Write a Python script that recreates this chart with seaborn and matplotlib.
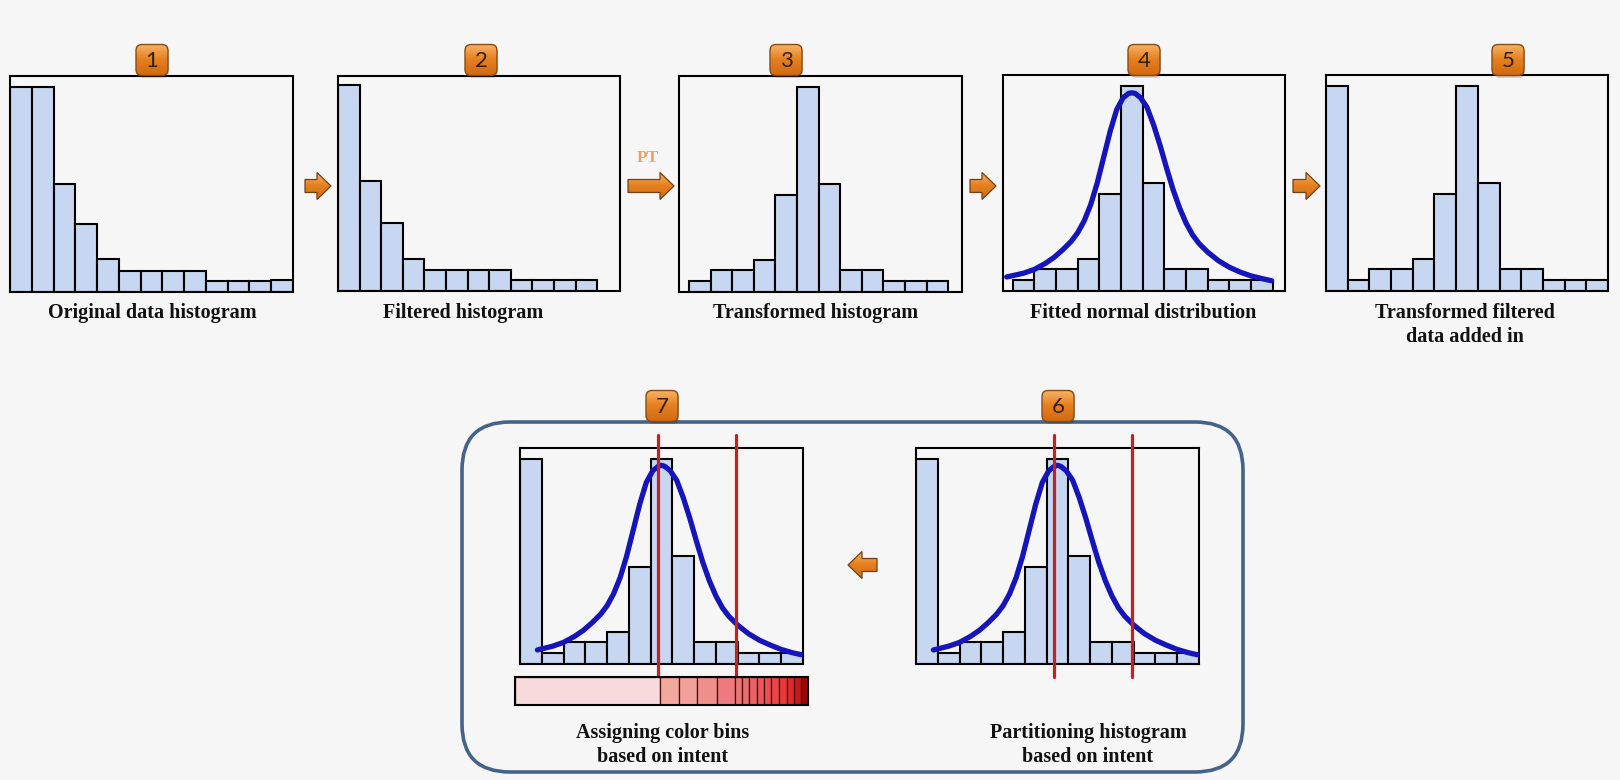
import numpy as np
import pandas as pd
import matplotlib
matplotlib.use("Agg")
import matplotlib.pyplot as plt
import seaborn as sns
from matplotlib.colors import LinearSegmentedColormap
from matplotlib.patches import FancyBboxPatch, Polygon

W, H = 1620, 780
BG = "#f6f6f6"
BAR = "#c7d7f1"
CURVE = "#1515bb"
CUT = "#c9201f"
ORANGE = LinearSegmentedColormap.from_list("orange", ["#f6b468", "#e5801f", "#d26a12"])

# bar heights (bin i is centred on x = i)
original_counts = [19.0, 19.0, 10.0, 6.3, 3.1, 1.9, 1.9, 1.9, 1.9, 1.0, 1.0, 1.0, 1.15]
filtered_counts = [19.2, 10.2, 6.3, 3.0, 2.0, 2.0, 2.0, 2.0, 1.0, 1.0, 1.0, 1.0]
transformed_counts = [1.0, 2.0, 2.0, 3.0, 9.0, 19.0, 10.0, 2.0, 2.0, 1.0, 1.0, 1.0]
added_counts = [19.0, 1.0, 2.0, 2.0, 3.0, 9.0, 19.0, 10.0, 2.0, 2.0, 1.0, 1.0, 1.0]

# fitted curve of panel 4
fit_x = [-0.78, 0.0, 0.5, 1.0, 1.4, 1.8, 2.2, 2.5, 2.8, 3.1, 3.4, 3.7, 4.0, 4.3, 4.6, 4.85, 5.0, 5.15,
         5.4, 5.7, 6.0, 6.3, 6.6, 6.9, 7.2, 7.5, 7.8, 8.1, 8.5, 9.0, 9.5, 10.0, 10.5, 11.0, 11.45]
fit_y = [1.3, 1.65, 2.0, 2.55, 3.1, 3.8, 4.6, 5.4, 6.5, 8.0, 10.0, 12.4, 14.8, 16.8, 17.9, 18.3, 18.35, 18.3,
         17.9, 17.0, 15.4, 13.5, 11.4, 9.4, 7.7, 6.3, 5.2, 4.4, 3.6, 2.8, 2.2, 1.75, 1.4, 1.15, 0.95]

# fitted curve of panels 6 and 7 (one extra bin on the left)
fit2_x = [0.3, 1.0, 1.5, 2.0, 2.4, 2.8, 3.2, 3.5, 3.8, 4.1, 4.4, 4.7, 5.0, 5.3, 5.6, 5.85, 6.0, 6.15,
          6.4, 6.7, 7.0, 7.3, 7.6, 7.9, 8.2, 8.5, 8.8, 9.1, 9.5, 10.0, 10.5, 11.0, 11.5, 12.0, 12.42]
fit2_y = [1.3, 1.65, 2.0, 2.55, 3.1, 3.8, 4.6, 5.4, 6.5, 8.0, 10.0, 12.4, 14.8, 16.8, 17.9, 18.3, 18.4, 18.3,
          17.9, 17.0, 15.4, 13.5, 11.4, 9.4, 7.7, 6.3, 5.2, 4.4, 3.6, 2.8, 2.2, 1.75, 1.35, 1.05, 0.86]

partition_cuts = [5.85, 9.4]

# colour bins under panel 7 (edges in percent of the strip)
color_edges = [0, 49.5, 56.0, 62.2, 68.8, 75.1, 77.6, 80.0, 82.5, 85.0, 87.5, 90.1, 92.7, 95.2, 97.6, 100]
color_bins = ["#f8d9dc", "#f2a89f", "#f1a199", "#ef8f8b", "#ee7a80", "#e97676", "#e96c6e",
              "#e96266", "#ea585c", "#eb4e52", "#ea4547", "#e6393a", "#de2a2a", "#c91818", "#9e0606"]

sns.set_theme(style="white")
plt.rcParams["font.family"] = ["Liberation Serif", "DejaVu Serif"]

fig = plt.figure(figsize=(W / 100, H / 100), dpi=100, facecolor=BG)


def px_axes(x0, x1, ytop, ybot, z=1):
    return fig.add_axes([x0 / W, 1 - ybot / H, (x1 - x0) / W, (ybot - ytop) / H], zorder=z)


def hist_panel(box, counts, xlim, curve=None, cuts=None):
    ax = px_axes(*box)
    df = pd.DataFrame({"bin": np.arange(len(counts)), "count": counts})
    sns.barplot(data=df, x="bin", y="count", native_scale=True, width=1, color=BAR, saturation=1,
                edgecolor="black", linewidth=1.5, errorbar=None, ax=ax)
    if curve is not None:
        sns.lineplot(x=curve[0], y=curve[1], color=CURVE, linewidth=3.8, ax=ax,
                     solid_capstyle="round", solid_joinstyle="round", zorder=4)
    for c in cuts or []:
        ax.axvline(c, ymin=-0.06, ymax=1.06, color=CUT, linewidth=2.3, clip_on=False, zorder=5)
    ax.set_xlim(*xlim)
    ax.set_ylim(0, 20)
    ax.set_facecolor(BG)
    ax.set(xticks=[], yticks=[], xlabel="", ylabel="")
    for s in ax.spines.values():
        s.set_visible(True)
        s.set_color("black")
        s.set_linewidth(1.5)
    return ax


hist_panel((10, 293, 76, 292), original_counts, (-0.5, 12.5))
hist_panel((338, 620, 76, 291), filtered_counts, (-0.5, 12.55))
hist_panel((679, 962, 76, 292), transformed_counts, (-0.96, 12.14))
hist_panel((1003, 1285, 75, 291), transformed_counts, (-0.95, 12.07), curve=(fit_x, fit_y))
hist_panel((1326, 1608, 75, 291), added_counts, (-0.5, 12.5))
hist_panel((520, 803, 448, 664), added_counts, (-0.5, 12.5), curve=(fit2_x, fit2_y), cuts=partition_cuts)
hist_panel((916, 1199, 448, 664), added_counts, (-0.5, 12.5), curve=(fit2_x, fit2_y), cuts=partition_cuts)

# colour strip
cax = px_axes(515, 808, 677, 705)
cax.barh(0, np.diff(color_edges), left=color_edges[:-1], height=1, color=color_bins,
         edgecolor="#4a1010", linewidth=0.9)
cax.set_xlim(0, 100)
cax.set_ylim(-0.5, 0.5)
cax.set(xticks=[], yticks=[])
for s in cax.spines.values():
    s.set_visible(True)
    s.set_color("black")
    s.set_linewidth(1.5)

# overlay in pixel coordinates for decorations
ov = fig.add_axes([0, 0, 1, 1], zorder=10)
ov.patch.set_alpha(0)
ov.set_xlim(0, W)
ov.set_ylim(H, 0)
ov.axis("off")


def gradient_fill(patch, x0, x1, y0, y1):
    ov.add_patch(patch)
    img = ov.imshow(np.linspace(0, 1, 64).reshape(-1, 1), extent=(x0, x1, y1, y0), origin="upper",
                    cmap=ORANGE, aspect="auto", zorder=patch.get_zorder() + 0.1)
    img.set_clip_path(patch)


def badge(cx, cy, num):
    ov.add_patch(FancyBboxPatch((cx - 14, cy - 13), 31, 31, boxstyle="round,pad=0,rounding_size=6",
                                fc="black", ec="none", alpha=0.15, zorder=3))
    shape = dict(boxstyle="round,pad=0,rounding_size=6")
    gradient_fill(FancyBboxPatch((cx - 16, cy - 15.5), 32, 31, fc="#e5801f", ec="none", zorder=4, **shape),
                  cx - 16, cx + 16, cy - 15.5, cy + 15.5)
    ov.add_patch(FancyBboxPatch((cx - 16, cy - 15.5), 32, 31, fc="none", ec="#8a4b12", lw=1.0, zorder=5, **shape))
    ov.text(cx, cy + 1, str(num), ha="center", va="center", fontsize=16, color="#33200c",
            family=["Lato", "DejaVu Sans"], zorder=6)


def block_arrow(x0, x1, cy, right=True):
    head, hh, sh = 14, 13.5, 6.5
    if right:
        pts = [(x0, cy - sh), (x1 - head, cy - sh), (x1 - head, cy - hh), (x1, cy),
               (x1 - head, cy + hh), (x1 - head, cy + sh), (x0, cy + sh)]
    else:
        pts = [(x1, cy - sh), (x0 + head, cy - sh), (x0 + head, cy - hh), (x0, cy),
               (x0 + head, cy + hh), (x0 + head, cy + sh), (x1, cy + sh)]
    gradient_fill(Polygon(pts, closed=True, fc="#e5801f", ec="none", zorder=4), x0, x1, cy - hh, cy + hh)
    ov.add_patch(Polygon(pts, closed=True, fc="none", ec="#6e4214", lw=0.9, zorder=5))


# rounded frame round panels 6 and 7
ov.add_patch(FancyBboxPatch((462, 422), 781, 350, boxstyle="round,pad=0,rounding_size=48",
                            fc="none", ec="#45628a", lw=2.6, zorder=1))

block_arrow(305, 331, 186)
block_arrow(628, 674, 186)
ov.text(648, 158, "PT", ha="center", va="center", fontsize=12.5, fontweight="bold", color="#e6a567")
block_arrow(970, 996, 186)
block_arrow(1293, 1320, 186)
block_arrow(848, 877, 565, right=False)

for cx, cy, n in [(152, 60, 1), (481, 60, 2), (786, 60, 3), (1144, 60, 4), (1508, 60, 5),
                  (662, 406, 7), (1058, 406, 6)]:
    badge(cx, cy, n)

labels = [
    (152, 313, "Original data histogram"),
    (463, 313, "Filtered histogram"),
    (816, 313, "Transformed histogram"),
    (1143, 313, "Fitted normal distribution"),
    (1465, 313, "Transformed filtered"),
    (1465, 337, "data added in"),
    (663, 733, "Assigning color bins"),
    (663, 757, "based on intent"),
    (1088, 733, "Partitioning histogram"),
    (1088, 757, "based on intent"),
]
for x, y, t in labels:
    ov.text(x, y, t, ha="center", va="center", fontsize=14.5, fontweight="bold", color="#111111")

fig.savefig("out.png", dpi=100, facecolor=BG)
plt.close(fig)
